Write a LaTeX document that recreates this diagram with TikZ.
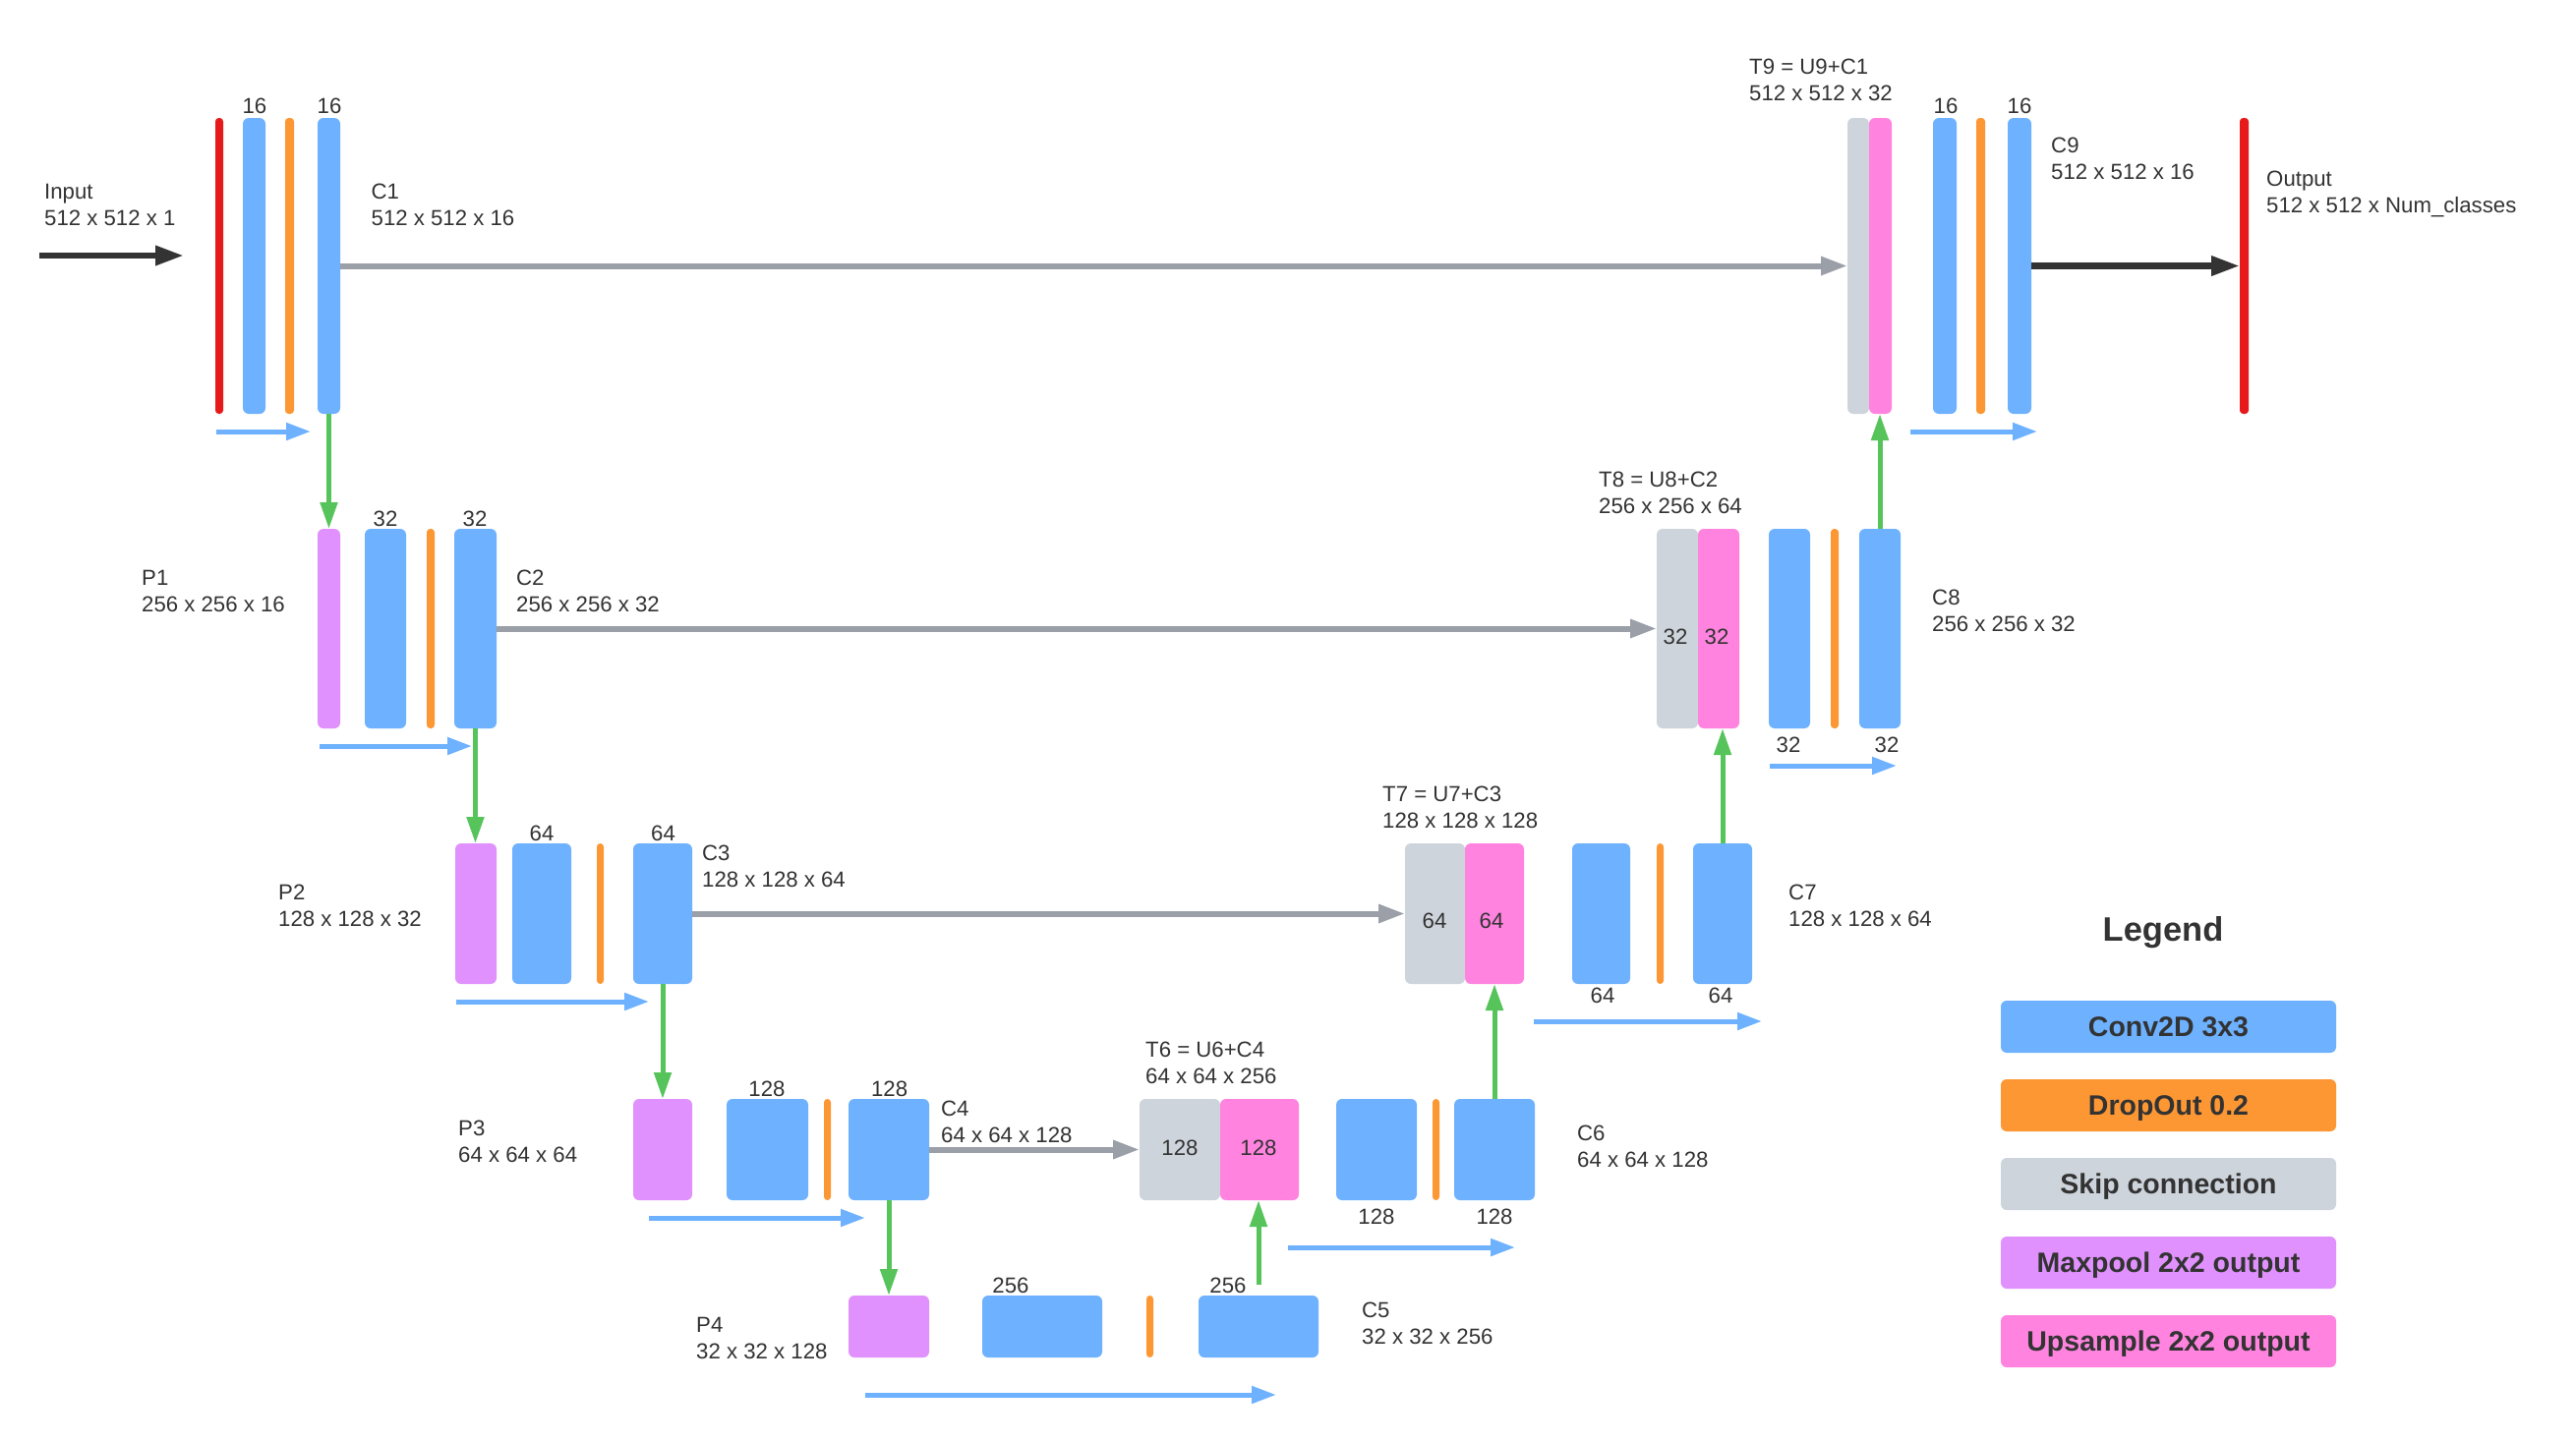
\documentclass[tikz,border=0pt]{standalone}
\usepackage{fontspec}
\setmainfont{Liberation Sans}
\usetikzlibrary{arrows.meta}

\definecolor{convblue}{HTML}{6DB1FF}
\definecolor{droporange}{HTML}{FC9733}
\definecolor{skipgray}{HTML}{CED4DC}
\definecolor{poolviolet}{HTML}{E091FD}
\definecolor{uppink}{HTML}{FF83DF}
\definecolor{iored}{HTML}{E61A1A}
\definecolor{skiparrow}{HTML}{9A9FA8}
\definecolor{downgreen}{HTML}{56C45B}
\definecolor{ink}{HTML}{333333}

\tikzset{
  lyr/.style={inner sep=0pt, outer sep=0pt, rounded corners=6pt},
  conv/.style={lyr, fill=convblue},
  drop/.style={lyr, fill=droporange, rounded corners=3.5pt},
  skip/.style={lyr, fill=skipgray},
  pool/.style={lyr, fill=poolviolet},
  upsm/.style={lyr, fill=uppink},
  iobar/.style={lyr, fill=iored, rounded corners=3.5pt},
  txt/.style={font=\fontsize{22.2}{27}\selectfont, text=ink, inner sep=0pt, align=left, anchor=north west},
  num/.style={font=\fontsize{22.2}{27}\selectfont, text=ink, inner sep=0pt},
  skiparr/.style={draw=skiparrow, line width=6pt, -{Triangle[length=27pt,width=18pt]}},
  greenarr/.style={draw=downgreen, line width=5pt, -{Triangle[length=27pt,width=17pt]}},
  flow/.style={draw=convblue, line width=5pt, -{Triangle[length=25pt,width=17pt]}},
  ioarr/.style={draw=ink, line width=6.5pt, -{Triangle[length=29pt,width=19pt]}},
  legbox/.style={minimum width=341pt, minimum height=53pt, rounded corners=6pt,
    font=\fontsize{28.5}{30}\selectfont\bfseries, text=ink, text height=20.5pt, text depth=0pt}
}

% one layer: name, style, x1, x2, y1, y2 (pixel coordinates)
\newcommand{\blk}[6]{%
  \node[#2, minimum width={(#4-#3)*1pt}, minimum height={(#6-#5)*1pt}] (#1) at ({(#3+#4)/2},{(#5+#6)/2}) {};}

\begin{document}
\begin{tikzpicture}[x=1pt, y=-1pt]
  \path[use as bounding box, fill=white] (0,0) rectangle (2620,1465);

  % row 1
  \foreach \n/\s/\xa/\xb in {in/iobar/219/227, c1a/conv/247/270, d1/drop/290/299, c1b/conv/323/346,
      t9s/skip/1879/1901, t9u/upsm/1901/1924, c9a/conv/1966/1990, d9/drop/2010/2019,
      c9b/conv/2042/2066, out/iobar/2278/2287}
    \blk{\n}{\s}{\xa}{\xb}{120}{421};
  % row 2
  \foreach \n/\s/\xa/\xb in {p1/pool/323/346, c2a/conv/371/413, d2/drop/434/442, c2b/conv/462/505,
      t8s/skip/1685/1727, t8u/upsm/1727/1769, c8a/conv/1799/1841, d8/drop/1862/1870, c8b/conv/1891/1933}
    \blk{\n}{\s}{\xa}{\xb}{538}{741};
  % row 3
  \foreach \n/\s/\xa/\xb in {p2/pool/463/505, c3a/conv/521/581, d3/drop/607/614, c3b/conv/644/704,
      t7s/skip/1429/1490, t7u/upsm/1490/1550, c7a/conv/1599/1658, d7/drop/1685/1692, c7b/conv/1722/1782}
    \blk{\n}{\s}{\xa}{\xb}{858}{1001};
  % row 4
  \foreach \n/\s/\xa/\xb in {p3/pool/644/704, c4a/conv/739/822, d4/drop/838/845, c4b/conv/863/945,
      t6s/skip/1159/1241, t6u/upsm/1241/1321, c6a/conv/1359/1441, d6/drop/1457/1464, c6b/conv/1479/1561}
    \blk{\n}{\s}{\xa}{\xb}{1118}{1221};
  % bottom
  \foreach \n/\s/\xa/\xb in {p4/pool/863/945, c5a/conv/999/1121, d5/drop/1166/1173, c5b/conv/1219/1341}
    \blk{\n}{\s}{\xa}{\xb}{1318}{1381};

  % filter counts
  \foreach \x/\y/\t [count=\i] in {259/108/16, 335/108/16, 1979/108/16, 2054/108/16,
      392/528/32, 483/528/32, 1704/648/32, 1746/648/32, 1819/758/32, 1919/758/32,
      551/848/64, 674.5/848/64, 1459/937/64, 1517/937/64, 1630/1013/64, 1750/1013/64,
      780/1108/128, 904.6/1108/128, 1200/1168/128, 1280/1168/128, 1400/1238/128, 1520/1238/128,
      1028/1308/256, 1249/1308/256}
    \node[num] (n\i) at (\x,\y) {\t};

  % tensor names and shapes
  \node[txt] (inT) at (45,187) {Input\\512 x 512 x 1};
  \node[txt] (c1T) at (377.5,187) {C1\\512 x 512 x 16};
  \node[txt] (t9T) at (1779,60) {T9 = U9+C1\\512 x 512 x 32};
  \node[txt] (c9T) at (2086,140) {C9\\512 x 512 x 16};
  \node[txt] (outT) at (2305,174) {Output\\512 x 512 x Num\_classes};
  \node[txt] (p1T) at (144,580) {P1\\256 x 256 x 16};
  \node[txt] (c2T) at (525,580) {C2\\256 x 256 x 32};
  \node[txt] (t8T) at (1626,480) {T8 = U8+C2\\256 x 256 x 64};
  \node[txt] (c8T) at (1965,600) {C8\\256 x 256 x 32};
  \node[txt] (p2T) at (283,900) {P2\\128 x 128 x 32};
  \node[txt] (c3T) at (714,860) {C3\\128 x 128 x 64};
  \node[txt] (t7T) at (1406,800) {T7 = U7+C3\\128 x 128 x 128};
  \node[txt] (c7T) at (1819,900) {C7\\128 x 128 x 64};
  \node[txt] (p3T) at (466,1140) {P3\\64 x 64 x 64};
  \node[txt] (c4T) at (957,1120) {C4\\64 x 64 x 128};
  \node[txt] (t6T) at (1165,1060) {T6 = U6+C4\\64 x 64 x 256};
  \node[txt] (c6T) at (1604,1145) {C6\\64 x 64 x 128};
  \node[txt] (p4T) at (708,1340) {P4\\32 x 32 x 128};
  \node[txt] (c5T) at (1385,1325) {C5\\32 x 32 x 256};

  % input / output
  \coordinate (inS) at (40,260);
  \coordinate (inE) at (187,260);
  \draw[ioarr] (inS) -- (inE);
  \draw[ioarr] (c9b.east) -- (out.west);

  % skip connections
  \draw[skiparr] (c1b.east) -- (t9s.west);
  \draw[skiparr] (c2b.east) -- (t8s.west);
  \draw[skiparr] (c3b.east) -- (t7s.west);
  \draw[skiparr] (c4b.east) -- (t6s.west);

  % maxpool down, upsample up
  \draw[greenarr] (c1b.south) -- (c1b.south |- p1.north);
  \draw[greenarr] (c2b.south) -- (c2b.south |- p2.north);
  \draw[greenarr] (c3b.south) -- (c3b.south |- p3.north);
  \draw[greenarr] (c4b.south) -- (c4b.south |- p4.north);
  \draw[greenarr] ([yshift=11pt]c5b.north) -- (c5b.north |- t6u.south);
  \draw[greenarr] (c6b.north) -- (c6b.north |- t7u.south);
  \draw[greenarr] (c7b.north) -- (c7b.north |- t8u.south);
  \draw[greenarr] (c8b.north) -- (c8b.north |- t9u.south);

  % data flow under each block
  \foreach \xa/\xb/\y [count=\i] in {220/316/439, 325/480/759, 464/660/1019, 660/880/1239, 880/1298/1419,
      1310/1541/1269, 1560/1792/1039, 1800/1929/779, 1943/2072/439} {
    \coordinate (fa\i) at (\xa,\y);
    \coordinate (fb\i) at (\xb,\y);
    \draw[flow] (fa\i) -- (fb\i);
  }

  % legend
  \node[font=\fontsize{34.5}{36}\selectfont\bfseries, text=ink, inner sep=0pt, anchor=base] (lgT) at (2200,957) {Legend};
  \foreach \s/\t [count=\i] in {conv/Conv2D 3x3, drop/DropOut 0.2, skip/Skip connection,
      pool/Maxpool 2x2 output, upsm/Upsample 2x2 output}
    \node[\s, legbox] (lg\i) at (2205.5,{964.5+80*\i}) {\t};
\end{tikzpicture}
\end{document}
